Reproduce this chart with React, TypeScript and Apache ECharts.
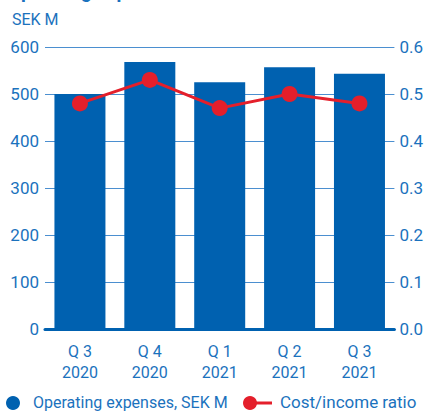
import React, { useEffect, useRef } from "react";
import * as echarts from "echarts";

const categories = ["Q 3\n2020", "Q 4\n2020", "Q 1\n2021", "Q 2\n2021", "Q 3\n2021"];
const expenses = [500, 568, 525, 557, 543];
const costIncome = [0.48, 0.53, 0.47, 0.5, 0.48];

const TEXT = "#1b72bd";
const BAR = "#0061b0";
const RED = "#e41f2b";
const FONT = "Roboto";

export default function App() {
  const ref = useRef<HTMLDivElement>(null);
  useEffect(() => {
    const chart = echarts.init(ref.current!, null, { renderer: "svg" });
    chart.setOption({
      animation: false,
      textStyle: { fontFamily: FONT },
      grid: { left: 45, right: 30, top: 47, bottom: 85 },
      xAxis: {
        type: "category",
        data: categories,
        axisLine: { lineStyle: { color: BAR, width: 3 } },
        axisTick: { show: false },
        axisLabel: { color: TEXT, fontSize: 16, lineHeight: 21, margin: 12, fontFamily: FONT },
      },
      yAxis: [
        {
          type: "value",
          min: 0,
          max: 600,
          interval: 100,
          axisLine: { show: false },
          axisTick: { show: false },
          axisLabel: { color: TEXT, fontSize: 17, margin: 6, fontFamily: FONT },
          splitLine: { lineStyle: { color: "#4b8fd0", width: 1 } },
        },
        {
          type: "value",
          min: 0,
          max: 0.6,
          interval: 0.1,
          axisLine: { show: false },
          axisTick: { show: false },
          axisLabel: {
            color: TEXT,
            fontSize: 17,
            margin: 5,
            fontFamily: FONT,
            formatter: (v: number) => v.toFixed(1),
          },
          splitLine: { show: false },
        },
      ],
      series: [
        {
          type: "bar",
          data: expenses,
          barWidth: 51,
          itemStyle: { color: BAR },
        },
        {
          type: "line",
          yAxisIndex: 1,
          data: costIncome,
          symbol: "circle",
          symbolSize: 16,
          lineStyle: { color: RED, width: 3 },
          itemStyle: { color: RED },
        },
      ],
      graphic: [
        {
          type: "text",
          left: 8,
          top: -18,
          style: { text: "Operating expenses", fill: TEXT, font: `bold 19px ${FONT}` },
        },
        {
          type: "text",
          left: 12,
          top: 11,
          style: { text: "SEK M", fill: TEXT, font: `16px ${FONT}` },
        },
        { type: "circle", shape: { cx: 13, cy: 403, r: 7 }, style: { fill: BAR } },
        {
          type: "text",
          left: 33,
          top: 394,
          style: { text: "Operating expenses, SEK M", fill: TEXT, font: `16px ${FONT}` },
        },
        { type: "line", shape: { x1: 245, y1: 403, x2: 272, y2: 403 }, style: { stroke: RED, lineWidth: 3 } },
        { type: "circle", shape: { cx: 250, cy: 403, r: 7 }, style: { fill: RED } },
        {
          type: "text",
          left: 280,
          top: 393,
          style: { text: "Cost/income ratio", fill: TEXT, font: `17px ${FONT}` },
        },
      ],
    });
    return () => chart.dispose();
  }, []);
  return <div ref={ref} style={{ width: 426, height: 414, position: "absolute", left: 0, top: 0 }} />;
}
